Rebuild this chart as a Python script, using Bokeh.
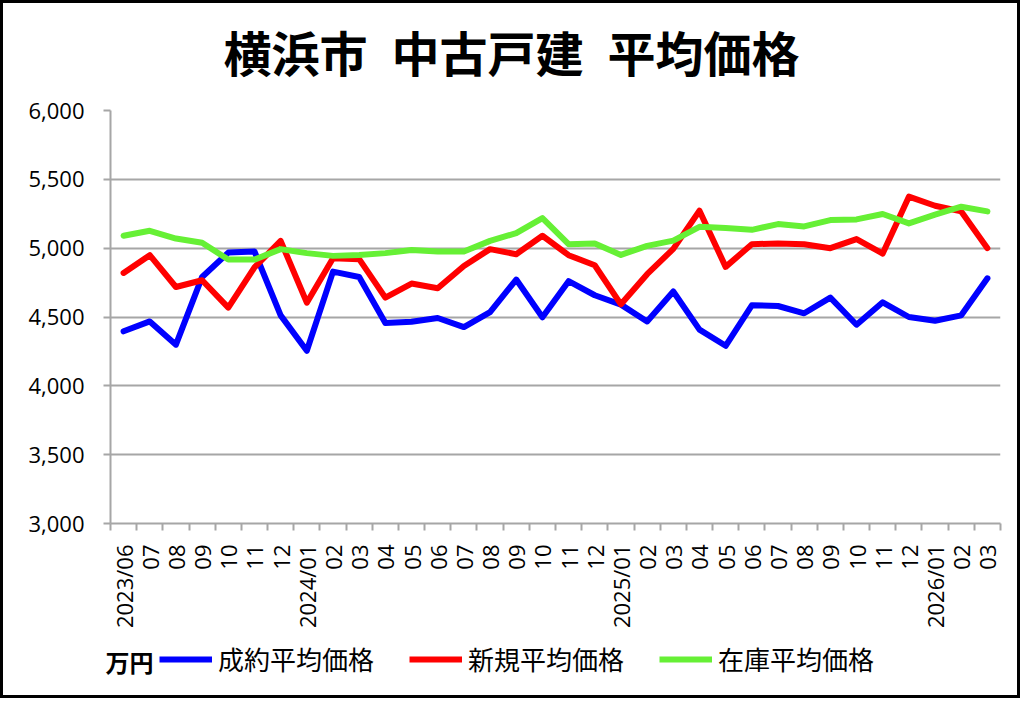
import math
from bokeh.plotting import figure
from bokeh.layouts import column
from bokeh.models import (FixedTicker, NumeralTickFormatter, Legend, LegendItem, Range1d, Label)
from bokeh.embed import file_html
from bokeh.resources import INLINE

months = ["2023/06", "07", "08", "09", "10", "11", "12",
          "2024/01", "02", "03", "04", "05", "06", "07", "08", "09", "10", "11", "12",
          "2025/01", "02", "03", "04", "05", "06", "07", "08", "09", "10", "11", "12",
          "2026/01", "02", "03"]

seiyaku = [4396, 4468, 4299, 4791, 4968, 4976, 4512, 4255, 4830, 4791, 4456, 4465,
           4493, 4427, 4536, 4772, 4498, 4760, 4658, 4590, 4468, 4685, 4408, 4291,
           4585, 4580, 4527, 4641, 4444, 4607, 4500, 4473, 4512, 4781]
shinki = [4820, 4949, 4718, 4767, 4568, 4860, 5053, 4604, 4927, 4920, 4641, 4743,
          4709, 4871, 4993, 4956, 5090, 4949, 4876, 4592, 4811, 4995, 5272, 4864,
          5029, 5034, 5029, 5000, 5066, 4961, 5374, 5308, 5267, 5000]
zaiko = [5090, 5126, 5070, 5039, 4917, 4917, 4993, 4964, 4944, 4951, 4964, 4987,
         4976, 4976, 5053, 5109, 5218, 5029, 5034, 4951, 5017, 5055, 5155, 5146,
         5133, 5175, 5158, 5204, 5209, 5248, 5180, 5243, 5301, 5267]

series_names = ["成約平均価格", "新規平均価格", "在庫平均価格"]
series_colors = ["#0000FF", "#FF0000", "#66F035"]
title_text = "横浜市\u2002中古戸建\u2002平均価格"
unit_text = "万円"

x = list(range(len(months)))
all_series = [seiyaku, shinki, zaiko]

B = 3            # outer border
CW = 1014        # inner width
TH, MH, LH = 90, 542, 60   # title / main / legend strip heights
JP = "Noto Sans CJK JP"


def blank_fig(h, yr):
    f = figure(width=CW, height=h, output_backend="svg", toolbar_location=None,
               x_range=Range1d(-0.5, len(months) - 0.5), y_range=yr,
               x_axis_type=None, y_axis_type=None, frame_align=False,
               min_border_left=0, min_border_right=0, min_border_top=0, min_border_bottom=0)
    f.outline_line_color = None
    f.xgrid.visible = False
    f.ygrid.visible = False
    f.background_fill_color = "white"
    f.border_fill_color = "white"
    return f


# ---- title strip
tf = blank_fig(TH, Range1d(0, 1))
tf.add_layout(Label(x=508, y=TH - 47, x_units="screen", y_units="screen", text=title_text,
                    text_font=JP, text_font_size="48px", text_font_style="bold",
                    text_align="center", text_baseline="middle", text_color="black"))

# ---- main chart
FL, FR = 107, 997
FT, FB = 107 - TH, 520 - TH
p = figure(width=CW, height=MH, output_backend="svg", toolbar_location=None,
           x_range=Range1d(-0.5, len(months) - 0.5), y_range=Range1d(3000, 6000),
           frame_align=False,
           min_border_left=FL, min_border_right=CW - FR,
           min_border_top=FT, min_border_bottom=MH - FB)
p.outline_line_color = None
p.background_fill_color = "white"
p.border_fill_color = "white"

grid_col = "#A6A6A6"
p.yaxis.ticker = FixedTicker(ticks=[3000, 3500, 4000, 4500, 5000, 5500, 6000])
p.yaxis.formatter = NumeralTickFormatter(format="0,0")
p.yaxis.axis_line_color = grid_col
p.yaxis.axis_line_width = 2
p.yaxis.major_tick_line_color = grid_col
p.yaxis.major_tick_line_width = 2
p.yaxis.major_tick_out = 7
p.yaxis.major_tick_in = 0
p.yaxis.minor_tick_line_color = None
p.yaxis.major_label_text_font = "Open Sans"
p.yaxis.major_label_text_font_size = "22px"
p.yaxis.major_label_text_color = "black"
p.yaxis.major_label_standoff = 19
p.ygrid.grid_line_color = grid_col
p.ygrid.grid_line_width = 2

p.xaxis.ticker = FixedTicker(ticks=x, minor_ticks=[i - 0.5 for i in range(len(months) + 1)])
p.xaxis.major_label_overrides = {i: m for i, m in enumerate(months)}
p.xaxis.major_label_orientation = math.pi / 2
p.xaxis.axis_line_color = grid_col
p.xaxis.axis_line_width = 2
p.xaxis.major_tick_line_color = None
p.xaxis.major_tick_out = 0
p.xaxis.minor_tick_line_color = grid_col
p.xaxis.minor_tick_line_width = 2
p.xaxis.minor_tick_out = 7
p.xaxis.minor_tick_in = 0
p.xaxis.major_label_text_font = "Open Sans"
p.xaxis.major_label_text_font_size = "22px"
p.xaxis.major_label_text_color = "black"
p.xaxis.major_label_standoff = 14
p.xgrid.grid_line_color = None

for vals, col in zip(all_series, series_colors):
    p.line(x, vals, line_color=col, line_width=6, line_join="round", line_cap="round")

# ---- legend strip (series drawn out of view; only their legend swatches show)
lf = blank_fig(LH, Range1d(0, 1))
leg_r = [lf.line(x, vals, line_color=c, line_width=6) for vals, c in zip(all_series, series_colors)]
items = [LegendItem(label=n, renderers=[r]) for n, r in zip(series_names, leg_r)]
legend = Legend(items=items, orientation="horizontal", location=(156, 18),
                glyph_width=53, glyph_height=20, label_standoff=6, spacing=35,
                padding=0, margin=0, border_line_color=None, background_fill_alpha=0,
                label_text_font=JP, label_text_font_size="26px", label_text_color="black")
lf.add_layout(legend, "center")
lf.add_layout(Label(x=102, y=34, x_units="screen", y_units="screen", text=unit_text,
                    text_font=JP, text_font_size="24px", text_font_style="bold",
                    text_align="left", text_baseline="middle", text_color="black"))

layout = column(tf, p, lf, spacing=0,
                styles={"border": f"{B}px solid black", "background": "white"})

open("out.html", "w").write(file_html(layout, INLINE))
